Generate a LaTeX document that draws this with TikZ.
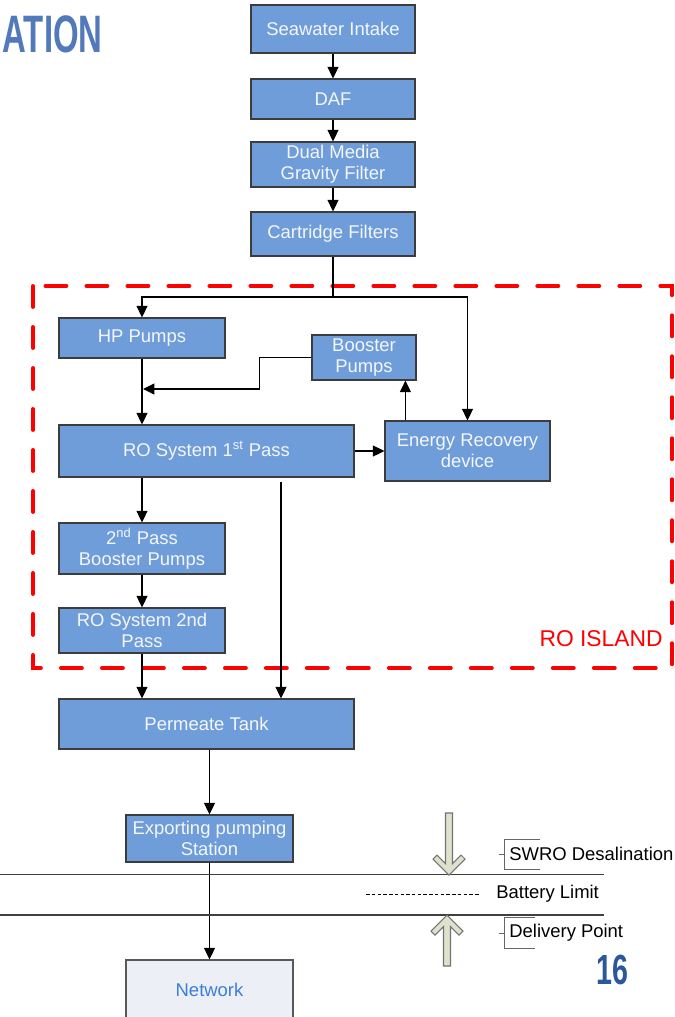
\documentclass[tikz,border=0pt]{standalone}
\usepackage{fontspec}
\setmainfont{Liberation Sans}
\usetikzlibrary{positioning,calc,arrows.meta}
\definecolor{boxblue}{HTML}{6F9DD9}
\definecolor{boxedge}{HTML}{3C3C3C}
\definecolor{boxtext}{HTML}{F4F6FA}
\definecolor{netfill}{HTML}{ECF0F6}
\definecolor{nettext}{HTML}{3B7DD8}
\definecolor{titleblue}{HTML}{5279BA}
\definecolor{pageblue}{HTML}{2C579B}
\definecolor{hollowfill}{HTML}{DDE2CC}
\begin{document}
\begin{tikzpicture}[x=0.02cm,y=-0.02cm,
		>={Triangle[length=0.23cm,width=0.22cm]},
		unit/.style={draw=boxedge,line width=0.7pt,fill=boxblue,text=boxtext,align=center,inner sep=0pt,font=\fontsize{10.5}{12.2}\selectfont},
		flow/.style={->,line width=0.6pt},
		limit/.style={draw=black!75,line width=0.6pt},
		hollow/.style={draw=black!55,fill=hollowfill,line width=0.6pt},
		label/.style={inner sep=0pt,font=\fontsize{10.5}{12.2}\selectfont}]
	\useasboundingbox (0,0) rectangle (674,1017);
	% title and page number
	\node[anchor=east,inner sep=0pt,text=titleblue,font=\fontsize{30}{30}\bfseries] (title) at (103,34) {\scalebox{0.625}[1]{ATION}};
	\node[inner sep=0pt,text=pageblue,font=\fontsize{24}{24}\bfseries] (page) at (612,970) {\scalebox{0.68}[1]{16}};
	% pretreatment
	\node[unit,minimum width=3.28cm,minimum height=0.96cm] (sea) at (333,29) {Seawater Intake};
	\node[unit,minimum width=3.28cm,minimum height=0.80cm] (daf) at (333,99) {DAF};
	\node[unit,minimum width=3.28cm,minimum height=0.90cm] (dual) at (333,164.5) {Dual Media\\Gravity Filter};
	\node[unit,minimum width=3.28cm,minimum height=0.88cm] (cart) at (333,234) {Cartridge Filters};
	% RO island
	\draw[red,line width=2.2pt,dash pattern=on 0.42cm off 0.40cm,line cap=round] (33,286) rectangle (672,668);
	\node[inner sep=0pt,text=red,font=\fontsize{13}{13}\selectfont,anchor=east] (island) at (663,639) {RO ISLAND};
	\node[unit,minimum width=3.32cm,minimum height=0.80cm] (hp) at (142,338) {HP Pumps};
	\node[unit,minimum width=2.08cm,minimum height=0.90cm] (boost) at (364,357.5) {Booster\\Pumps};
	\node[unit,minimum width=5.90cm,minimum height=1.04cm] (ro1) at (206.5,451) {RO System 1\textsuperscript{st} Pass};
	\node[unit,minimum width=3.30cm,minimum height=1.20cm] (erd) at (467.5,451) {Energy Recovery\\device};
	\node[unit,minimum width=3.32cm,minimum height=1.02cm] (pb2) at (142,548.5) {2\textsuperscript{nd} Pass\\Booster Pumps};
	\node[unit,minimum width=3.32cm,minimum height=0.90cm] (ro2) at (142,630.5) {RO System 2nd\\Pass};
	% product side
	\node[unit,minimum width=5.90cm,minimum height=1.00cm] (tank) at (206.5,724) {Permeate Tank};
	\node[unit,minimum width=3.34cm,minimum height=0.94cm] (exp) at (209.5,838.5) {Exporting pumping\\Station};
	\node[unit,draw=black!65,fill=netfill,text=nettext,minimum width=3.34cm,minimum height=1.20cm] (net) at (209.5,990) {Network};
	\coordinate (split) at (333,297);
	\coordinate (join) at (143,389);
	\coordinate (bypass) at (281,482);
	\draw[flow] (sea) -- (daf);
	\draw[flow] (daf) -- (dual);
	\draw[flow] (dual) -- (cart);
	\draw[line width=0.6pt] (cart) -- (split);
	\draw[flow] (split) -| (hp);
	\draw[flow] (split) -| (erd);
	\draw[flow] (hp.south) -- (hp.south |- ro1.north);
	\draw[flow] (boost.west) -- ++(-51.5,0) |- (join);
	\draw[flow] (ro1) -- (erd);
	\draw[flow] ([xshift=0.42cm]erd.north west) -- ([xshift=0.42cm]erd.north west |- boost.south);
	\draw[flow] (pb2.north |- ro1.south) -- (pb2.north);
	\draw[flow] (pb2) -- (ro2);
	\draw[flow] (ro2.south) -- (ro2.south |- tank.north);
	\draw[flow] (bypass) -- (bypass |- tank.north);
	\draw[flow] (exp.north |- tank.south) -- (exp.north);
	\draw[flow] (exp) -- (net);
	% battery limit
	\draw[limit] (0,874.7) -- (604,874.7);
	\draw[limit] (0,915) -- (604,915);
	\draw[hollow,shift={(449,875)}] (-3.5,-62) -- (-3.5,-11.5) -- (-12,-20) -- (-16,-16) -- (0,0) -- (16,-16) -- (12,-20) -- (3.5,-11.5) -- (3.5,-62) -- cycle;
	\draw[hollow,shift={(447,915)},yscale=-1] (-3.5,-51) -- (-3.5,-11.5) -- (-12,-20) -- (-16,-16) -- (0,0) -- (16,-16) -- (12,-20) -- (3.5,-11.5) -- (3.5,-51) -- cycle;
	\draw[black!60,line width=0.5pt] (540,839.3) -- (504,839.3) -- (504,869.3) -- (540,869.3) (499,854.3) -- (504,854.3);
	\draw[black!60,line width=0.5pt] (535,917.3) -- (504,917.3) -- (504,948.3) -- (535,948.3) (499,933) -- (504,933);
	\node[label,anchor=west] (swro) at (509,854) {SWRO Desalination};
	\node[label,anchor=west] (battery) at (496,894) {Battery Limit};
	\node[label,anchor=west] (delivery) at (509,933) {Delivery Point};
	\draw[line width=0.5pt,dash pattern=on 0.07cm off 0.045cm] (366,894) -- (480,894);
\end{tikzpicture}
\end{document}
